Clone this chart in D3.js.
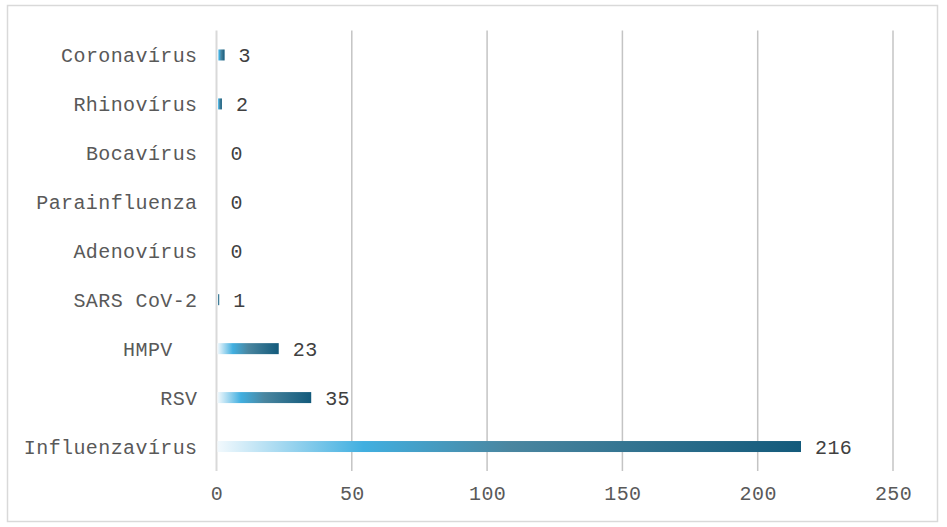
<!DOCTYPE html>
<html>
<head>
<meta charset="utf-8">
<script src="https://cdn.jsdelivr.net/npm/d3@7"></script>
<style>
  body { margin: 0; background: #fff; }
  text { font-family: "Courier New", "Liberation Mono", monospace; letter-spacing: 0.4px; white-space: pre; }
</style>
</head>
<body>
<div id="chart"></div>
<script>
var categories = ["Coronavírus", "Rhinovírus", "Bocavírus", "Parainfluenza", "Adenovírus",
                  "SARS CoV-2", "HMPV  ", "RSV", "Influenzavírus"];
var values = [3, 2, 0, 0, 0, 1, 23, 35, 216];
var xTicks = [0, 50, 100, 150, 200, 250];

var width = 947, height = 527;
var margin = { top: 30.5, left: 216.5, right: 54, bottom: 56 };

var svg = d3.select("#chart")
  .append("svg")
  .attr("width", width)
  .attr("height", height);

// outer frame
svg.append("rect")
  .attr("x", 7.5)
  .attr("y", 5.5)
  .attr("width", 930)
  .attr("height", 516)
  .attr("fill", "#fff")
  .attr("stroke", "#d9d9d9")
  .attr("stroke-width", 1.5);

var grad = svg.append("defs").append("linearGradient")
  .attr("id", "barGrad")
  .attr("x1", "0%").attr("x2", "100%")
  .attr("y1", "0%").attr("y2", "0%");
grad.append("stop").attr("offset", "0%").attr("stop-color", "#f2f9fd");
grad.append("stop").attr("offset", "25%").attr("stop-color", "#41afe0");
grad.append("stop").attr("offset", "50%").attr("stop-color", "#4a86a0");
grad.append("stop").attr("offset", "100%").attr("stop-color", "#135a7b");

var x = d3.scaleLinear()
  .domain([0, 250])
  .range([margin.left, width - margin.right]);

var y = d3.scaleBand()
  .domain(categories)
  .range([margin.top, height - margin.bottom]);

// gridlines
svg.selectAll(".grid")
  .data(xTicks.slice(1))
  .enter()
  .append("line")
  .attr("class", "grid")
  .attr("x1", function (d) { return x(d); })
  .attr("x2", function (d) { return x(d); })
  .attr("y1", margin.top)
  .attr("y2", height - margin.bottom)
  .attr("stroke", "#c4c4c4")
  .attr("stroke-width", 1.5);

// zero axis
svg.append("line")
  .attr("x1", x(0)).attr("x2", x(0))
  .attr("y1", margin.top)
  .attr("y2", height - margin.bottom)
  .attr("stroke", "#d9d9d9")
  .attr("stroke-width", 2);

// x tick labels
var xAxis = d3.axisBottom(x).tickValues(xTicks).tickSize(0).tickPadding(15);
var gx = svg.append("g")
  .attr("transform", "translate(0," + (height - margin.bottom) + ")")
  .call(xAxis);
gx.select(".domain").remove();
gx.selectAll("text")
  .attr("fill", "#595959")
  .style("font-size", "20px");

// bars
var barH = 11;
svg.selectAll(".bar")
  .data(values)
  .enter()
  .append("rect")
  .attr("class", "bar")
  .attr("x", x(0) + 1)
  .attr("y", function (d, i) { return y(categories[i]) + y.bandwidth() / 2 - barH / 2; })
  .attr("width", function (d) { return Math.max(0, x(d) - x(0) - 1); })
  .attr("height", barH)
  .attr("fill", "url(#barGrad)");

// category labels
svg.selectAll(".cat")
  .data(categories)
  .enter()
  .append("text")
  .attr("class", "cat")
  .attr("x", x(0) - 19)
  .attr("y", function (d) { return y(d) + y.bandwidth() / 2; })
  .attr("dy", "0.35em")
  .attr("text-anchor", "end")
  .attr("fill", "#595959")
  .style("font-size", "20px")
  .text(function (d) { return d; });

// value labels
svg.selectAll(".val")
  .data(values)
  .enter()
  .append("text")
  .attr("class", "val")
  .attr("x", function (d) { return x(d) + 14; })
  .attr("y", function (d, i) { return y(categories[i]) + y.bandwidth() / 2; })
  .attr("dy", "0.35em")
  .attr("fill", "#404040")
  .style("font-size", "20px")
  .text(function (d) { return d; });
</script>
</body>
</html>
